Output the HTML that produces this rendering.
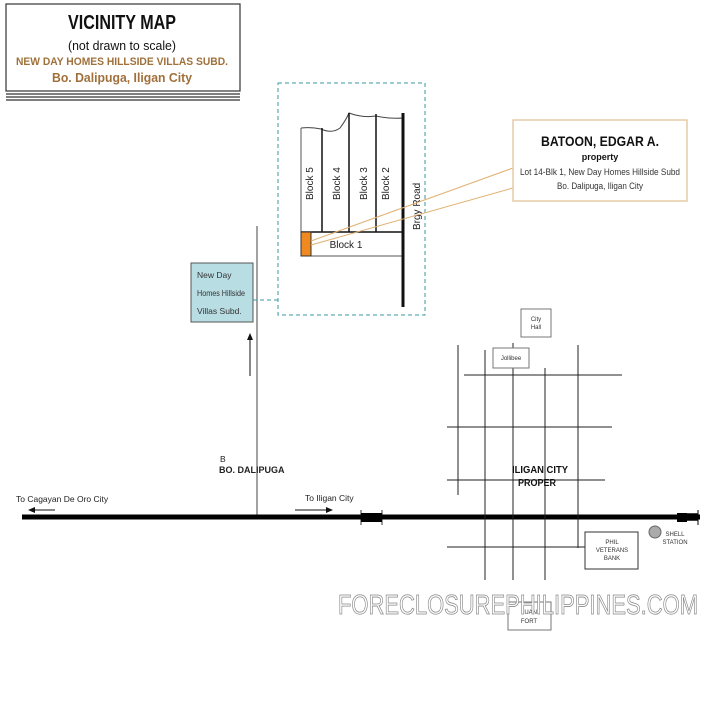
<!DOCTYPE html>
<html><head><meta charset="utf-8"><style>
html,body{margin:0;padding:0;background:#fff}
svg{display:block}
text{font-family:"Liberation Sans",Arial,sans-serif}
</style></head><body>
<svg width="720" height="720" viewBox="0 0 720 720" xmlns="http://www.w3.org/2000/svg">
<rect width="720" height="720" fill="#fff"/>
<!-- title -->
<rect x="6" y="4" width="234" height="87" fill="#fff" stroke="#333" stroke-width="1.2"/>
<line x1="6" y1="94" x2="240" y2="94" stroke="#333" stroke-width="1.2"/>
<line x1="6" y1="97" x2="240" y2="97" stroke="#333" stroke-width="1.2"/>
<line x1="6" y1="100" x2="240" y2="100" stroke="#333" stroke-width="1.2"/>
<text x="122" y="29" font-size="20" text-anchor="middle" fill="#111" textLength="108" lengthAdjust="spacingAndGlyphs" font-weight="bold">VICINITY MAP</text>
<text x="122" y="50" font-size="13" text-anchor="middle" fill="#111" textLength="108" lengthAdjust="spacingAndGlyphs">(not drawn to scale)</text>
<text x="122" y="65" font-size="11" font-weight="bold" text-anchor="middle" fill="#a0703a" textLength="212" lengthAdjust="spacingAndGlyphs">NEW DAY HOMES HILLSIDE VILLAS SUBD.</text>
<text x="122" y="82" font-size="13" font-weight="bold" text-anchor="middle" fill="#a0703a" textLength="140" lengthAdjust="spacingAndGlyphs">Bo. Dalipuga, Iligan City</text>
<!-- dashed box -->
<rect x="278" y="83" width="147" height="232" fill="none" stroke="#3a9aa0" stroke-width="1" stroke-dasharray="4,3"/>
<!-- blocks -->
<path d="M301 128 Q312 127 321 129 Q332 134 340 128 Q346 120 349 113 Q362 118 376 116 Q390 119 403 118" fill="none" stroke="#444" stroke-width="1"/>
<line x1="301" y1="128" x2="301" y2="256" stroke="#555" stroke-width="1"/>
<line x1="322" y1="128" x2="322" y2="232" stroke="#111" stroke-width="1.5"/>
<line x1="349" y1="113" x2="349" y2="232" stroke="#111" stroke-width="1.5"/>
<line x1="376" y1="114" x2="376" y2="232" stroke="#111" stroke-width="1.5"/>
<line x1="301" y1="232" x2="403" y2="232" stroke="#111" stroke-width="1.5"/>
<line x1="301" y1="256" x2="403" y2="256" stroke="#555" stroke-width="1"/>
<line x1="403" y1="113" x2="403" y2="307" stroke="#111" stroke-width="3"/>
<rect x="301" y="232" width="10" height="24" fill="#f08a20" stroke="#333" stroke-width="1"/>
<text x="346" y="248" font-size="10" text-anchor="middle" fill="#222">Block 1</text>
<text transform="translate(313 200) rotate(-90)" font-size="10" fill="#222">Block 5</text>
<text transform="translate(340 200) rotate(-90)" font-size="10" fill="#222">Block 4</text>
<text transform="translate(367 200) rotate(-90)" font-size="10" fill="#222">Block 3</text>
<text transform="translate(389 200) rotate(-90)" font-size="10" fill="#222">Block 2</text>
<text transform="translate(420 230) rotate(-90)" font-size="10" fill="#222">Brgy Road</text>
<!-- callout -->
<line x1="311" y1="241" x2="513" y2="168" stroke="#e0b070" stroke-width="1"/>
<line x1="311" y1="245" x2="513" y2="188" stroke="#e0b070" stroke-width="1"/>
<rect x="513" y="120" width="174" height="81" fill="#fff" stroke="#e6cca6" stroke-width="1.5"/>
<text x="600" y="146" font-size="14" font-weight="bold" text-anchor="middle" fill="#111" textLength="118" lengthAdjust="spacingAndGlyphs">BATOON, EDGAR A.</text>
<text x="600" y="160" font-size="9" font-weight="bold" text-anchor="middle" fill="#111">property</text>
<text x="600" y="175" font-size="9" text-anchor="middle" fill="#333" textLength="160" lengthAdjust="spacingAndGlyphs">Lot 14-Blk 1, New Day Homes Hillside Subd</text>
<text x="600" y="189" font-size="9" text-anchor="middle" fill="#333" textLength="86" lengthAdjust="spacingAndGlyphs">Bo. Dalipuga, Iligan City</text>
<!-- subd road -->
<line x1="257" y1="226" x2="257" y2="517" stroke="#444" stroke-width="1"/>
<rect x="191" y="263" width="62" height="59" fill="#b8dde3" stroke="#555" stroke-width="1"/>
<text x="197" y="278" font-size="8.5" fill="#333">New Day</text>
<text x="197" y="296" font-size="8.5" fill="#333" textLength="48" lengthAdjust="spacingAndGlyphs">Homes Hillside</text>
<text x="197" y="314" font-size="8.5" fill="#333">Villas Subd.</text>
<line x1="253" y1="300" x2="278" y2="300" stroke="#3a9aa0" stroke-width="1" stroke-dasharray="4,3"/>
<line x1="250" y1="376" x2="250" y2="338" stroke="#111" stroke-width="1"/>
<polygon points="250,333 247,340 253,340" fill="#111"/>
<text x="220" y="462" font-size="8.5" fill="#222">B</text>
<text x="219" y="473" font-size="9" font-weight="bold" fill="#222">BO. DALIPUGA</text>
<!-- main road -->
<line x1="22" y1="517" x2="700" y2="517" stroke="#000" stroke-width="5"/>
<rect x="361" y="513" width="21" height="9" fill="#000"/>
<line x1="361" y1="510" x2="361" y2="525" stroke="#000" stroke-width="0.8"/>
<line x1="382" y1="510" x2="382" y2="525" stroke="#000" stroke-width="0.8"/>
<rect x="677" y="513" width="10" height="9" fill="#000"/>
<line x1="687" y1="514" x2="698" y2="514" stroke="#000" stroke-width="1.5"/>
<line x1="687" y1="517" x2="698" y2="517" stroke="#000" stroke-width="1.5"/>
<line x1="687" y1="520" x2="698" y2="520" stroke="#000" stroke-width="1.5"/>
<line x1="698" y1="510" x2="698" y2="525" stroke="#000" stroke-width="1"/>
<text x="16" y="502" font-size="8.5" fill="#222">To Cagayan De Oro City</text>
<line x1="32" y1="510" x2="55" y2="510" stroke="#111" stroke-width="1"/>
<polygon points="28,510 35,507 35,513" fill="#111"/>
<text x="305" y="501" font-size="8.5" fill="#222">To Iligan City</text>
<line x1="295" y1="510" x2="328" y2="510" stroke="#111" stroke-width="1"/>
<polygon points="333,510 326,507 326,513" fill="#111"/>
<!-- grid -->
<g stroke="#222" stroke-width="1">
<line x1="458" y1="345" x2="458" y2="495"/>
<line x1="485" y1="350" x2="485" y2="580"/>
<line x1="513" y1="343" x2="513" y2="580"/>
<line x1="545" y1="368" x2="545" y2="580"/>
<line x1="578" y1="345" x2="578" y2="548"/>
<line x1="464" y1="375" x2="622" y2="375"/>
<line x1="447" y1="427" x2="612" y2="427"/>
<line x1="447" y1="480" x2="605" y2="480"/>
<line x1="447" y1="547" x2="600" y2="547"/>
</g>
<rect x="521" y="309" width="30" height="28" fill="#fff" stroke="#777"/>
<text x="536" y="321" font-size="6" text-anchor="middle" fill="#333">City</text>
<text x="536" y="329" font-size="6" text-anchor="middle" fill="#333">Hall</text>
<rect x="493" y="348" width="36" height="20" fill="#fff" stroke="#777"/>
<text x="511" y="360" font-size="6" text-anchor="middle" fill="#333">Jollibee</text>
<text x="540" y="473" font-size="10" font-weight="bold" text-anchor="middle" fill="#111" textLength="56" lengthAdjust="spacingAndGlyphs">ILIGAN CITY</text>
<text x="537" y="486" font-size="10" font-weight="bold" text-anchor="middle" fill="#111" textLength="38" lengthAdjust="spacingAndGlyphs">PROPER</text>
<rect x="585" y="532" width="53" height="37" fill="#fff" stroke="#333"/>
<text x="612" y="544" font-size="6" text-anchor="middle" fill="#333">PHIL</text>
<text x="612" y="552" font-size="6" text-anchor="middle" fill="#333">VETERANS</text>
<text x="612" y="560" font-size="6" text-anchor="middle" fill="#333">BANK</text>
<circle cx="655" cy="532" r="6" fill="#aaa" stroke="#666"/>
<text x="675" y="536" font-size="6" text-anchor="middle" fill="#333">SHELL</text>
<text x="675" y="544" font-size="6" text-anchor="middle" fill="#333">STATION</text>
<rect x="508" y="602" width="43" height="28" fill="#fff" stroke="#777"/>
<text x="529" y="614" font-size="6" text-anchor="middle" fill="#333">LUAN</text>
<text x="529" y="623" font-size="6" text-anchor="middle" fill="#333">FORT</text>
<!-- watermark -->
<text x="518" y="614" font-size="28" text-anchor="middle" fill="#fff" stroke="#888" stroke-width="0.8" textLength="360" lengthAdjust="spacingAndGlyphs">FORECLOSUREPHILIPPINES.COM</text>
</svg>
</body></html>
